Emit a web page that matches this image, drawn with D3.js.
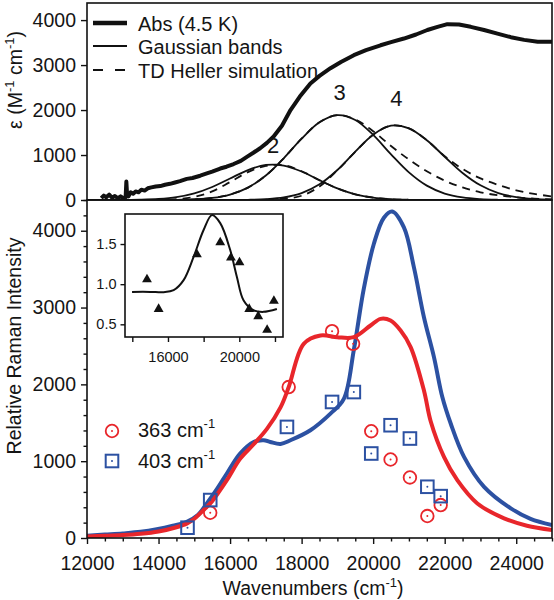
<!DOCTYPE html>
<html><head><meta charset="utf-8">
<script src="https://cdn.jsdelivr.net/npm/d3@7"></script>
<style>
body{margin:0;background:#fff}
svg{display:block}
text{font-family:"Liberation Sans",Arial,Helvetica,sans-serif;fill:#151515}
</style>
</head><body>
<svg id="c" width="554" height="600"></svg>
<script>
// ---------------- DATA ----------------
// Top panel: absorption spectrum (4.5 K)
const absWn = [12400,12470,12540,12620,12700,12780,12860,12940,13020,13080,13100,13120,13160,13220,13290,13360,13440,13520,13610,13700,13800,13920,14050,14180,14320,14460,14600,14790,14950,15165,15350,15500,15725,15900,16100,16300,16470,16650,16840,17030,17218,17450,17690,17950,18246,18500,18807,19100,19460,19800,20207,20500,20860,21200,21515,21800,22075,22400,22728,23100,23475,23850,24221,24600,25000];
const absV  = [40,100,60,120,50,90,40,80,40,60,410,130,80,170,140,190,170,230,210,260,280,300,310,340,360,390,420,470,490,540,590,630,700,740,800,870,960,1050,1150,1270,1410,1650,2000,2300,2590,2760,2930,3070,3220,3330,3440,3510,3590,3680,3780,3850,3910,3900,3850,3780,3700,3620,3560,3520,3520];
// Gaussian bands (solid)
const bandWn = [12000,12500,13000,13500,14000,14500,15000,15500,16000,16500,17000,17500,18000,18500,19000,19500,20000,20500,21000,21500,22000,22500,23000,23500,24000,24500,25000];
const band2  = [0,0,2,7,23,63,147,290,479,666,779,766,633,439,257,126,52,18,5,1,0,0,0,0,0,0,0];
const band3  = [0,0,0,0,1,4,15,45,121,276,545,928,1364,1728,1888,1780,1447,1015,614,319,144,56,19,5,1,0,0];
const band4  = [0,0,0,0,0,0,0,0,1,5,18,56,153,348,667,1075,1453,1652,1592,1329,962,602,327,154,63,22,7];
// TD Heller simulation (dashed)
const td2Wn = [13500,14000,14500,15000,15500,16000,16500,17000,17500,18000,18500,19000,19500,20000,20500,21000];
const td2   = [1,5,20,70,190,400,620,760,775,640,439,257,126,52,18,5];
const td3Wn = [14500,15000,15500,16000,16500,17000,17500,18000,18500,19000,19500,20000,20500,21000,21500,22000,22500,23000,23500,24000,24500,25000];
const td3   = [4,15,45,121,276,545,928,1364,1728,1888,1790,1530,1200,900,640,430,280,170,105,60,30,15];
const td4Wn = [17000,17500,18000,18500,19000,19500,20000,20500,21000,21500,22000,22500,23000,23500,24000,24500,25000];
const td4   = [10,30,95,300,660,1070,1453,1652,1592,1329,975,690,480,335,215,135,80];
const bandLabels = ["2","3","4"];
const bandLabelWn = [17200,19060,20650];
const bandLabelV  = [1040,2220,2100];

// Bottom panel: Raman excitation profiles
const redWn = [12000,12500,13000,13500,14000,14500,14800,15000,15350,15500,15910,16280,16660,17030,17410,17640,18059,18527,18994,19460,19927,20207,20487,20768,21048,21420,21608,21980,22353,22913,23660,24300,25000];
const redV  = [20,28,38,55,85,140,190,250,406,480,753,1030,1220,1420,1700,1965,2528,2636,2614,2614,2766,2853,2831,2701,2485,1920,1520,1056,753,450,256,160,104];
const blueWn = [12000,12500,13000,13500,13950,14400,14790,15100,15350,15650,15910,16280,16660,16940,17125,17410,17690,18246,18807,19180,19460,19740,20020,20300,20533,20860,21140,21420,21700,21934,22168,22541,23101,23848,24400,25000];
const blueV  = [30,45,60,80,113,160,212,300,450,650,840,1100,1250,1273,1250,1225,1273,1403,1619,1810,2450,3250,3830,4170,4250,4043,3523,2874,2355,1835,1490,1056,666,386,250,169];
const c363Wn = [15445,17639,18851,19440,19947,20487,21028,21515,21888];
const c363V  = [329,1965,2692,2528,1390,1022,788,286,429];
const s403Wn = [14810,15445,17590,18851,19460,19947,20487,21028,21515,21888];
const s403V  = [134,494,1446,1771,1900,1100,1468,1295,667,545];

// Inset: intensity ratio
const ratioWn = [14823,15475,17624,18930,19530,20010,20555,21060,21560,21940];
const ratioV  = [1.06,0.69,1.37,1.52,1.33,1.27,0.69,0.60,0.43,0.79];
const fitWn = [13985,15010,15756,16317,16877,17437,17997,18465,18930,19490,19865,20235,20796,21356,22106];
const fitV  = [0.904,0.904,0.90,0.925,1.05,1.34,1.675,1.86,1.76,1.425,1.09,0.80,0.675,0.655,0.69];

// Ticks
const xMajor = [12000,14000,16000,18000,20000,22000,24000];
const yTopMajor = [0,1000,2000,3000,4000];
const yBotMajor = [0,1000,2000,3000,4000];
const insetX = [14000,16000,18000,20000,22000];
const insetXLabeled = [16000,20000];
const insetY = [0.5,1.0,1.5];

// ---------------- DRAW ----------------
const RED = "#e8262b", BLUE = "#2c51a2";
const svg = d3.select("#c");
svg.append("rect").attr("width",554).attr("height",600).attr("fill","#fff");

const L = 87, R = 552, TT = 3, TB = 200, BB = 538;
const x = d3.scaleLinear().domain([12000,25000]).range([L,R]);
const yT = d3.scaleLinear().domain([0,4380]).range([TB,TT]);
const yB = d3.scaleLinear().domain([0,4400]).range([BB,TB]);

const defs = svg.append("defs");
defs.append("clipPath").attr("id","clipT").append("rect").attr("x",L).attr("y",TT).attr("width",R-L).attr("height",TB-TT);
defs.append("clipPath").attr("id","clipB").append("rect").attr("x",L).attr("y",TB).attr("width",R-L).attr("height",BB-TB);

function path(xs, ys, ys2, curve){
  return d3.line().x((d,i)=>x(xs[i])).y((d,i)=>ys2(ys[i])).curve(curve)(ys);
}

// top panel curves
const gT = svg.append("g").attr("clip-path","url(#clipT)");
[band2,band3,band4].forEach(b=>{
  gT.append("path").attr("d",path(bandWn,b,yT,d3.curveCatmullRom)).attr("fill","none").attr("stroke","#111").attr("stroke-width",1.8);
});
[[td2Wn,td2],[td3Wn,td3],[td4Wn,td4]].forEach(([w,v])=>{
  gT.append("path").attr("d",path(w,v,yT,d3.curveCatmullRom)).attr("fill","none").attr("stroke","#111").attr("stroke-width",1.8).attr("stroke-dasharray","8,6");
});
gT.append("path").attr("d",path(absWn,absV,yT,d3.curveLinear)).attr("fill","none").attr("stroke","#111").attr("stroke-width",4).attr("stroke-linejoin","round");

bandLabels.forEach((t,i)=>{
  svg.append("text").attr("x",x(bandLabelWn[i])).attr("y",yT(bandLabelV[i])).attr("text-anchor","middle").attr("font-size",22).text(t);
});

// bottom panel curves
const gB = svg.append("g").attr("clip-path","url(#clipB)");
gB.append("path").attr("d",path(blueWn,blueV,yB,d3.curveCatmullRom)).attr("fill","none").attr("stroke",BLUE).attr("stroke-width",4);
gB.append("path").attr("d",path(redWn,redV,yB,d3.curveCatmullRom)).attr("fill","none").attr("stroke",RED).attr("stroke-width",4);

// markers
function circ(g,cx,cy){
  g.append("circle").attr("cx",cx).attr("cy",cy).attr("r",6.3).attr("fill","none").attr("stroke",RED).attr("stroke-width",1.8);
  g.append("circle").attr("cx",cx).attr("cy",cy).attr("r",1).attr("fill",RED);
}
function sq(g,cx,cy){
  g.append("rect").attr("x",cx-6.3).attr("y",cy-6.3).attr("width",12.6).attr("height",12.6).attr("fill","none").attr("stroke",BLUE).attr("stroke-width",2);
  g.append("circle").attr("cx",cx).attr("cy",cy).attr("r",1).attr("fill",BLUE);
}
const gm = svg.append("g");
c363Wn.forEach((w,i)=>circ(gm,x(w),yB(c363V[i])));
s403Wn.forEach((w,i)=>sq(gm,x(w),yB(s403V[i])));

// frames
svg.append("rect").attr("x",L).attr("y",TT).attr("width",R-L).attr("height",TB-TT).attr("fill","none").attr("stroke","#111").attr("stroke-width",1.6);
svg.append("rect").attr("x",L).attr("y",TB).attr("width",R-L).attr("height",BB-TB).attr("fill","none").attr("stroke","#111").attr("stroke-width",1.6);

// axes
function styleAxis(g,fs){
  g.select(".domain").remove();
  g.selectAll("line").attr("stroke","#111").attr("stroke-width",1.4);
  g.selectAll("text").attr("font-size",fs).attr("fill","#151515").style("font-family",'"Liberation Sans",Arial,sans-serif');
}
const axT = svg.append("g").attr("transform",`translate(${L},0)`).call(d3.axisLeft(yT).tickValues(yTopMajor).tickSize(6).tickPadding(5).tickFormat(d3.format("d")));
styleAxis(axT,19.5);
const axB = svg.append("g").attr("transform",`translate(${L},0)`).call(d3.axisLeft(yB).tickValues(yBotMajor).tickSize(6).tickPadding(5).tickFormat(d3.format("d")));
styleAxis(axB,19.5);
const yMinor = d3.range(200,4401,200).filter(v=>v%1000!==0);
const axBm = svg.append("g").attr("transform",`translate(${L},0)`).call(d3.axisLeft(yB).tickValues(yMinor).tickSize(3.5).tickFormat(""));
styleAxis(axBm,10);
const axX = svg.append("g").attr("transform",`translate(0,${BB})`).call(d3.axisBottom(x).tickValues(xMajor).tickSize(6).tickPadding(12).tickFormat(d3.format("d")));
styleAxis(axX,19.5);
const xMinor = d3.range(12500,25001,500).filter(v=>v%2000!==0);
const axXm = svg.append("g").attr("transform",`translate(0,${BB})`).call(d3.axisBottom(x).tickValues(xMinor).tickSize(3.5).tickFormat(""));
styleAxis(axXm,10);

// axis titles
const yt1 = svg.append("text").attr("transform","translate(22,80) rotate(-90)").attr("text-anchor","middle").attr("font-size",19.5);
yt1.append("tspan").text("ε (M");
yt1.append("tspan").attr("font-size",13).attr("dy",-8).text("-1");
yt1.append("tspan").attr("dy",8).text(" cm");
yt1.append("tspan").attr("font-size",13).attr("dy",-8).text("-1");
yt1.append("tspan").attr("dy",8).text(")");
svg.append("text").attr("transform","translate(21,346) rotate(-90)").attr("text-anchor","middle").attr("font-size",19.5).text("Relative Raman Intensity");
const xt = svg.append("text").attr("x",313).attr("y",595).attr("text-anchor","middle").attr("font-size",19.5);
xt.append("tspan").text("Wavenumbers (cm");
xt.append("tspan").attr("font-size",13).attr("dy",-8).text("-1");
xt.append("tspan").attr("dy",8).text(")");

// top legend
const legT = [
  {t:"Abs (4.5 K)", w:4.5, dash:null, y:23},
  {t:"Gaussian bands", w:1.8, dash:null, y:46},
  {t:"TD Heller simulation", w:1.8, dash:"10,12", y:70}
];
legT.forEach(d=>{
  const ln = svg.append("line").attr("x1",93).attr("x2",127).attr("y1",d.y).attr("y2",d.y).attr("stroke","#111").attr("stroke-width",d.w);
  if(d.dash) ln.attr("stroke-dasharray",d.dash);
  svg.append("text").attr("x",138).attr("y",d.y+7.5).attr("font-size",20).text(d.t);
});

// bottom legend
circ(svg,112,431);
sq(svg,112,461);
[["363 cm",437],["403 cm",468]].forEach(([t,yy])=>{
  const tx = svg.append("text").attr("x",138).attr("y",yy).attr("font-size",20);
  tx.append("tspan").text(t);
  tx.append("tspan").attr("font-size",13).attr("dy",-9).text("-1");
});

// inset
const xi = d3.scaleLinear().domain([13590,22450]).range([125,283]);
const yi = d3.scaleLinear().domain([0.342,1.874]).range([337,214]);
svg.append("rect").attr("x",125).attr("y",214).attr("width",158).attr("height",123).attr("fill","#fff");
defs.append("clipPath").attr("id","clipI").append("rect").attr("x",125).attr("y",214).attr("width",158).attr("height",123);
svg.append("path").attr("clip-path","url(#clipI)")
  .attr("d",d3.line().x((d,i)=>xi(fitWn[i])).y((d,i)=>yi(fitV[i])).curve(d3.curveCatmullRom)(fitV))
  .attr("fill","none").attr("stroke","#111").attr("stroke-width",2);
ratioWn.forEach((w,i)=>{
  svg.append("path").attr("d",d3.symbol(d3.symbolTriangle,42)()).attr("transform",`translate(${xi(w)},${yi(ratioV[i])})`).attr("fill","#111");
});
svg.append("rect").attr("x",125).attr("y",214).attr("width",158).attr("height",123).attr("fill","none").attr("stroke","#111").attr("stroke-width",1.6);
const aiy = svg.append("g").attr("transform","translate(125,0)").call(d3.axisLeft(yi).tickValues(insetY).tickSize(4.5).tickPadding(4).tickFormat(d3.format(".1f")));
styleAxis(aiy,14.5);
const aix = svg.append("g").attr("transform","translate(0,337)").call(d3.axisBottom(xi).tickValues(insetX).tickSize(5).tickPadding(10).tickFormat(d=>insetXLabeled.includes(d)?d3.format("d")(d):""));
styleAxis(aix,14.5);
</script>
</body></html>
